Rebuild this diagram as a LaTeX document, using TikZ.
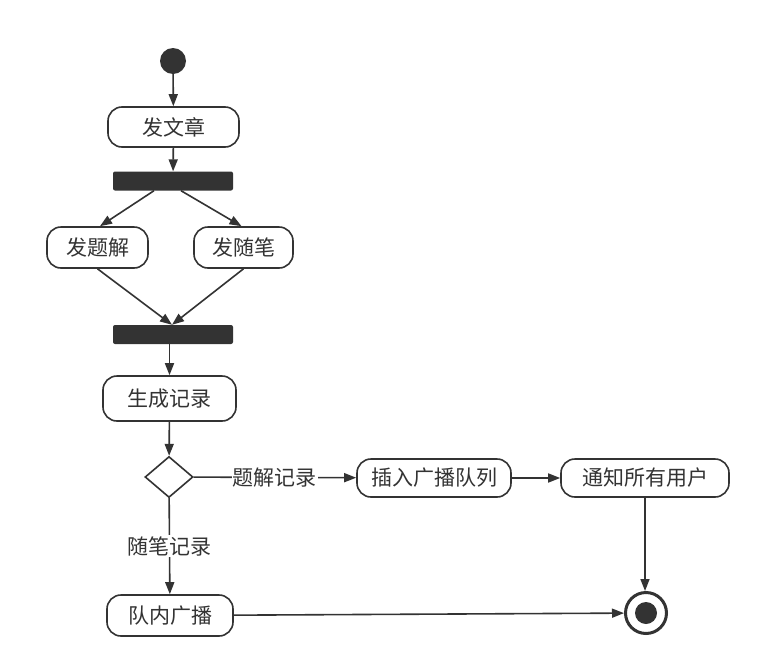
\documentclass[tikz,border=0pt]{standalone}
\usepackage{fontspec}
\setmainfont{Noto Sans CJK SC}
\usetikzlibrary{arrows.meta,shapes.geometric}
\definecolor{ink}{HTML}{333333}
\begin{document}
\begin{tikzpicture}[x=1pt,y=-1pt,
  act/.style={draw=ink, line width=1.6pt, rounded corners=14pt, fill=white, text=ink,
    font=\fontsize{21}{21}\selectfont, inner sep=0pt},
  bar/.style={fill=ink, rounded corners=2pt, inner sep=0pt, minimum width=120pt, minimum height=19pt},
  arr/.style={draw=ink, line width=1.6pt, -{Triangle[length=12pt,width=9pt]}},
  lbl/.style={fill=white, text=ink, font=\fontsize{21}{21}\selectfont, inner sep=1pt}]
\useasboundingbox (0,0) rectangle (761,667);
\fill[white] (0,0) rectangle (761,667);
\node[circle, fill=ink, minimum size=26pt, inner sep=0pt] (start) at (173,61) {};
\node[act, minimum width=131pt, minimum height=40pt] (fwz) at (173.5,127) {发文章};
\node[bar] (fork) at (173,181) {};
\node[act, minimum width=101pt, minimum height=41pt] (tj) at (97.5,247.5) {发题解};
\node[act, minimum width=99pt, minimum height=41pt] (sb) at (243.5,247.5) {发随笔};
\node[bar] (join) at (173,334.5) {};
\node[act, minimum width=133pt, minimum height=45pt] (gen) at (169.5,398.5) {生成记录};
\node[diamond, draw=ink, line width=1.6pt, fill=white, minimum width=48pt, minimum height=41pt, inner sep=0pt] (dec) at (169,477) {};
\node[act, minimum width=154pt, minimum height=38pt] (ins) at (434,478) {插入广播队列};
\node[act, minimum width=168pt, minimum height=38pt] (notify) at (645,478) {通知所有用户};
\node[act, minimum width=126pt, minimum height=41pt] (team) at (170,615.5) {队内广播};
\node[circle, draw=ink, line width=3pt, fill=white, minimum size=41pt, inner sep=0pt] (end) at (646,613) {};
\node[circle, fill=ink, minimum size=22pt, inner sep=0pt] (endin) at (end) {};
\draw[arr] (start) -- (fwz);
\draw[arr] (fwz) -- (fork);
\draw[arr] ([xshift=-19pt]fork.south) -- ([xshift=2.5pt]tj.north);
\draw[arr] ([xshift=8pt]fork.south) -- ([xshift=-2pt]sb.north);
\draw[arr] (tj.south) -- ([xshift=-1pt]join.north);
\draw[arr] (sb.south) -- ([xshift=-1pt]join.north);
\draw[arr] (join.south -| gen.north) -- (gen.north);
\draw[arr] (gen) -- (dec);
\draw[arr] (dec) -- node[lbl]{题解记录} (ins);
\draw[arr] (ins) -- (notify);
\draw[arr] (notify.south) -- (notify.south |- end.north);
\draw[arr] (dec) -- node[lbl]{随笔记录} (team);
\draw[arr] (team) -- (end);
\end{tikzpicture}
\end{document}
